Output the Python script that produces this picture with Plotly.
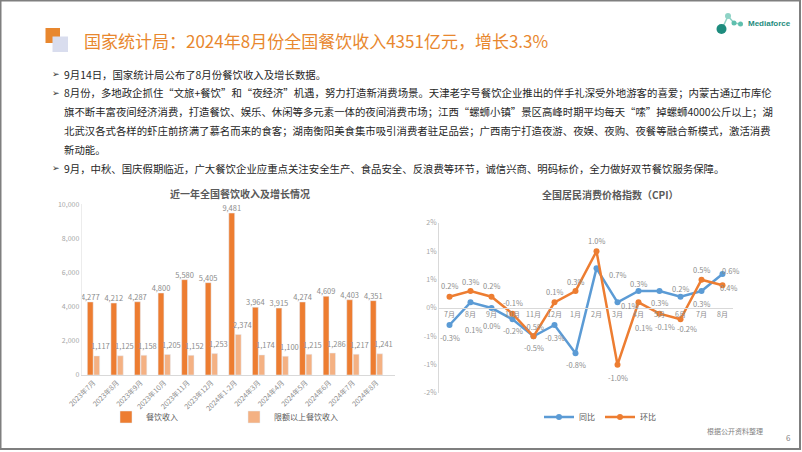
import plotly.graph_objects as go

W, H = 802, 452
def px(x): return x / W
def py(y): return 1 - y / H

# ---------------- data ----------------
bar_months = ["2023年7月", "2023年8月", "2023年9月", "2023年10月", "2023年11月", "2023年12月",
              "2024年1-2月", "2024年3月", "2024年4月", "2024年5月", "2024年6月", "2024年7月", "2024年8月"]
catering_revenue = [4277, 4212, 4287, 4800, 5580, 5405, 9481, 3964, 3915, 4274, 4609, 4403, 4351]
above_quota_revenue = [1117, 1125, 1158, 1205, 1152, 1253, 2374, 1174, 1100, 1215, 1286, 1217, 1241]
bar_yticks = [0, 2000, 4000, 6000, 8000, 10000]

cpi_months = ["7月", "8月", "9月", "10月", "11月", "12月", "1月", "2月", "3月", "4月", "5月", "6月", "7月", "8月"]
cpi_yoy = [-0.3, 0.1, 0.0, -0.2, -0.5, -0.3, -0.8, 0.7, 0.1, 0.3, 0.3, 0.2, 0.3, 0.6]
cpi_mom = [0.2, 0.3, 0.2, -0.1, -0.5, 0.1, 0.3, 1.0, -1.0, 0.1, -0.1, -0.2, 0.5, 0.4]
cpi_ytick_vals = [-1.5, -1, -0.5, 0, 0.5, 1, 1.5]
cpi_ytick_text = ["-2%", "-1%", "-1%", "0%", "1%", "1%", "2%"]

title_text = "国家统计局：2024年8月份全国餐饮收入4351亿元，增长3.3%"
body_lines = [
    "9月14日，国家统计局公布了8月份餐饮收入及增长数据。",
    "8月份，多地政企抓住“文旅+餐饮”和“夜经济”机遇，努力打造新消费场景。天津老字号餐饮企业推出的伴手礼深受外地游客的喜爱；内蒙古通辽市库伦",
    "旗不断丰富夜间经济消费，打造餐饮、娱乐、休闲等多元素一体的夜间消费市场；江西“螺蛳小镇”景区高峰时期平均每天“嗦”掉螺蛳4000公斤以上；湖",
    "北武汉各式各样的虾庄前挤满了慕名而来的食客；湖南衡阳美食集市吸引消费者驻足品尝；广西南宁打造夜游、夜娱、夜购、夜餐等融合新模式，激活消费",
    "新动能。",
    "9月，中秋、国庆假期临近，广大餐饮企业应重点关注安全生产、食品安全、反浪费等环节，诚信兴商、明码标价，全力做好双节餐饮服务保障。",
]
body_bullets = [True, True, False, False, False, True]

# ---------------- styles ----------------
FONT = "Noto Sans CJK SC"
ORANGE = "#ED7D31"
PEACH = "#F4B183"
BLUE = "#5B9BD5"
GRAY_TXT = "#8c8c8c"
AXIS_LINE = "#d9d9d9"

body_y = [74, 93, 112, 131, 150, 168]
yoy_off = [(0, 12), (3, 27), (0, 17), (0, 11), (0, 11), (0, 12), (0, 11), (21, 6),
           (12, 3), (0, -8), (0, 11), (0, -8), (0, 12), (8, -4)]
mom_off = [(0, -11), (0, -10), (0, -11), (0, -11), (0, -10), (0, -11), (0, -10), (0, -11),
           (0, 13), (5, 25), (5, 13), (6, 9), (0, -10), (6, 2)]

fig = go.Figure()

fig.add_trace(go.Bar(
    x=bar_months, y=catering_revenue, name="餐饮收入", marker_color=ORANGE,
    texttemplate="%{y:,}", textposition="outside", textangle=0, constraintext="none",
    textfont=dict(size=7.5, color=GRAY_TXT, family=FONT), cliponaxis=False,
    xaxis="x", yaxis="y", legend="legend"))
fig.add_trace(go.Bar(
    x=bar_months, y=above_quota_revenue, name="限额以上餐饮收入", marker_color=PEACH,
    xaxis="x", yaxis="y", legend="legend"))

xs = list(range(len(cpi_months)))
fig.add_trace(go.Scatter(
    x=xs, y=cpi_yoy, name="同比", mode="lines+markers",
    line=dict(color=BLUE, width=2.5), marker=dict(size=6, color=BLUE),
    xaxis="x2", yaxis="y2", legend="legend2", cliponaxis=False))
fig.add_trace(go.Scatter(
    x=xs, y=cpi_mom, name="环比", mode="lines+markers",
    line=dict(color=ORANGE, width=2.5), marker=dict(size=6, color=ORANGE),
    xaxis="x2", yaxis="y2", legend="legend2", cliponaxis=False))

ann = []
# light-bar value labels (offset to the right as in the reference)
for m, v in zip(bar_months, above_quota_revenue):
    ann.append(dict(x=m, y=v, xref="x", yref="y", text=f"{v:,}", showarrow=False,
                    xshift=7, yshift=10, font=dict(size=7.5, color=GRAY_TXT, family=FONT)))
# CPI data labels
for i, v in enumerate(cpi_yoy):
    dx, dy = yoy_off[i]
    ann.append(dict(x=i, y=v, xref="x2", yref="y2", text=f"{v:.1f}%", showarrow=False,
                    xshift=dx, yshift=-dy, font=dict(size=7.5, color=GRAY_TXT, family=FONT)))
for i, v in enumerate(cpi_mom):
    dx, dy = mom_off[i]
    ann.append(dict(x=i, y=v, xref="x2", yref="y2", text=f"{v:.1f}%", showarrow=False,
                    xshift=dx, yshift=-dy, font=dict(size=7.5, color=GRAY_TXT, family=FONT)))

# headline
ann.append(dict(x=px(82), y=py(40), xref="paper", yref="paper", xanchor="left", yanchor="middle",
                text=title_text, showarrow=False, font=dict(size=17, color="#E8872E", family=FONT)))
# body
for yy, line, bul in zip(body_y, body_lines, body_bullets):
    if bul:
        ann.append(dict(x=px(50), y=py(yy), xref="paper", yref="paper", xanchor="left", yanchor="middle",
                        text="➢", showarrow=False, font=dict(size=9, color="#333333", family="DejaVu Sans")))
    ann.append(dict(x=px(62), y=py(yy), xref="paper", yref="paper", xanchor="left", yanchor="middle",
                    text=line, showarrow=False, font=dict(size=10.4, color="#262626", family=FONT)))
# chart titles
ann.append(dict(x=px(240), y=py(193), xref="paper", yref="paper", xanchor="center", yanchor="middle",
                text="<b>近一年全国餐饮收入及增长情况</b>", showarrow=False,
                font=dict(size=10, color="#595959", family=FONT)))
ann.append(dict(x=px(610), y=py(195), xref="paper", yref="paper", xanchor="center", yanchor="middle",
                text="<b>全国居民消费价格指数（CPI）</b>", showarrow=False,
                font=dict(size=10, color="#595959", family=FONT)))
# footer
ann.append(dict(x=px(735), y=py(431), xref="paper", yref="paper", xanchor="center", yanchor="middle",
                text="根据公开资料整理", showarrow=False, font=dict(size=7, color="#7f7f7f", family=FONT)))
ann.append(dict(x=px(788), y=py(437), xref="paper", yref="paper", xanchor="center", yanchor="middle",
                text="6", showarrow=False, font=dict(size=8, color="#7f7f7f", family=FONT)))
# logo text
ann.append(dict(x=px(746), y=py(24), xref="paper", yref="paper", xanchor="left", yanchor="middle",
                text="<b>Mediaforce</b>", showarrow=False, font=dict(size=8, color="#1E8C7E", family="Liberation Sans")))

shapes = [
    dict(type="rect", xref="paper", yref="paper", x0=px(0.5), x1=px(800), y0=py(449), y1=py(0.5),
         line=dict(color="#7f7f7f", width=2), fillcolor="rgba(0,0,0,0)", layer="above"),
    dict(type="rect", xref="paper", yref="paper", x0=px(45.5), x1=px(60), y0=py(43), y1=py(28),
         line=dict(width=0), fillcolor="#E8872E"),
    dict(type="rect", xref="paper", yref="paper", x0=px(52.5), x1=px(68), y0=py(52), y1=py(36.5),
         line=dict(width=0), fillcolor="#D9DDEE"),
    # logo network
    dict(type="line", xref="paper", yref="paper", x0=px(722), y0=py(29), x1=px(728), y1=py(16),
         line=dict(color="#8fd3c6", width=1.5)),
    dict(type="line", xref="paper", yref="paper", x0=px(728), y0=py(16), x1=px(734), y1=py(23),
         line=dict(color="#8fd3c6", width=1.5)),
    dict(type="line", xref="paper", yref="paper", x0=px(734), y0=py(23), x1=px(740), y1=py(24),
         line=dict(color="#8fd3c6", width=1.5)),
    dict(type="circle", xref="paper", yref="paper", x0=px(716.5), x1=px(726.5), y0=py(34), y1=py(24),
         line=dict(width=0), fillcolor="#1E8C7E"),
    dict(type="circle", xref="paper", yref="paper", x0=px(725), x1=px(731), y0=py(19), y1=py(13),
         line=dict(width=0), fillcolor="#8fd3c6"),
    dict(type="circle", xref="paper", yref="paper", x0=px(731.5), x1=px(736.5), y0=py(25.5), y1=py(20.5),
         line=dict(width=0), fillcolor="#5fbfae"),
    dict(type="circle", xref="paper", yref="paper", x0=px(738), x1=px(743), y0=py(26.5), y1=py(21.5),
         line=dict(width=0), fillcolor="#5fbfae"),
]

fig.update_layout(
    width=W, height=H, margin=dict(l=0, r=0, t=0, b=0, autoexpand=False),
    paper_bgcolor="white", plot_bgcolor="white",
    font=dict(family=FONT, size=8, color="#595959"),
    barmode="group", bargap=0.45, bargroupgap=0.1,
    xaxis=dict(domain=[px(81.7), px(395)], anchor="y", type="category", automargin=False,
               tickangle=-45, tickfont=dict(size=7, color=GRAY_TXT),
               showline=True, linecolor=AXIS_LINE, linewidth=1, ticks="", showgrid=False),
    yaxis=dict(domain=[py(375), py(204)], range=[0, 10010], anchor="x", automargin=False,
               tickvals=bar_yticks, tickformat=",", tickfont=dict(size=7, color="#a6a6a6"),
               showline=True, linecolor="#ececec", showgrid=False, zeroline=False, ticks=""),
    xaxis2=dict(domain=[px(439), px(733)], range=[-0.5, 13.5], anchor="free", position=py(308),
                automargin=False,
                tickvals=xs, ticktext=cpi_months, tickfont=dict(size=7, color=GRAY_TXT),
                showline=True, linecolor=AXIS_LINE, linewidth=1, ticks="", showgrid=False, zeroline=False),
    yaxis2=dict(domain=[py(393), py(223)], range=[-1.5, 1.5], anchor="x2", automargin=False,
                tickvals=cpi_ytick_vals, ticktext=cpi_ytick_text, tickfont=dict(size=7, color="#a6a6a6"),
                showline=True, linecolor=AXIS_LINE, showgrid=False, zeroline=False, ticks=""),
    legend=dict(orientation="h", x=px(106), y=py(417), xanchor="left", yanchor="middle",
                entrywidth=83, entrywidthmode="pixels", itemwidth=30,
                font=dict(size=8, color="#595959"), bgcolor="rgba(0,0,0,0)"),
    legend2=dict(orientation="h", x=px(600), y=py(417), xanchor="center", yanchor="middle",
                 itemwidth=30, font=dict(size=8, color="#595959"), bgcolor="rgba(0,0,0,0)"),
    annotations=ann, shapes=shapes,
)

fig.write_html("out.html")
